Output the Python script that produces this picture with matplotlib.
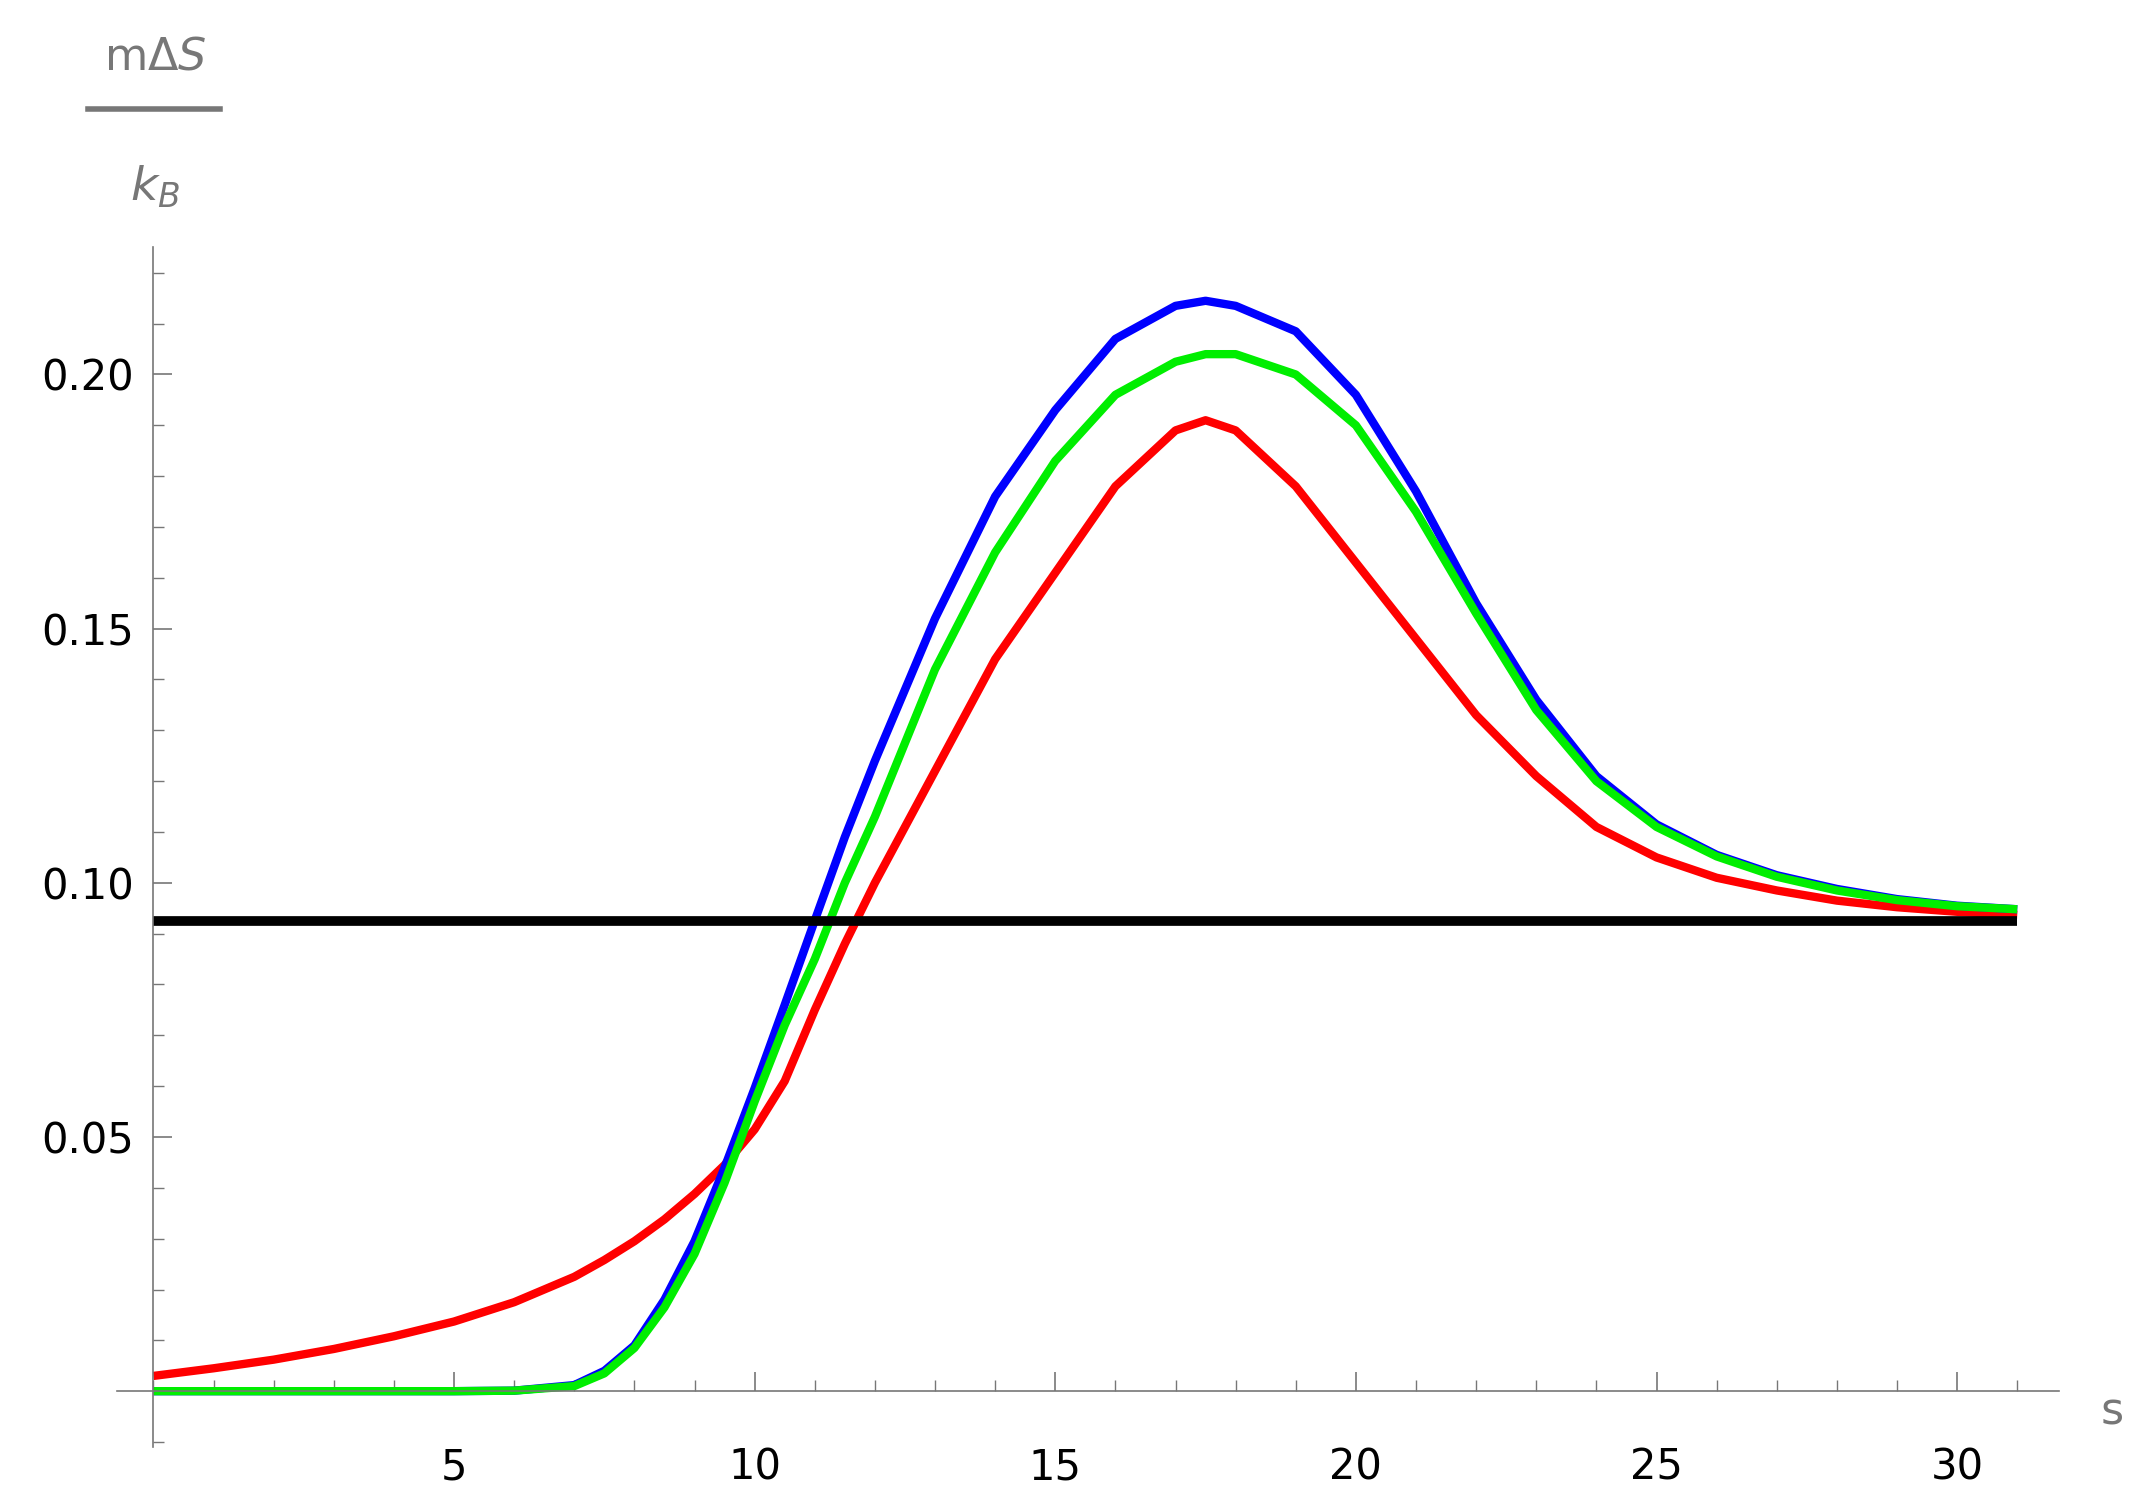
import numpy as np
import matplotlib.pyplot as plt
from matplotlib.ticker import MultipleLocator

s = [0, 1, 2, 3, 4, 5, 6, 7, 7.5, 8, 8.5, 9, 9.5, 10, 10.5, 11, 11.5, 12, 13, 14, 15, 16, 17, 17.5, 18, 19, 20, 21, 22, 23, 24, 25, 26, 27, 28, 29, 30, 31]
red = [0.003, 0.0045, 0.0062, 0.0083, 0.0108, 0.0137, 0.0175, 0.0225, 0.0258, 0.0295, 0.0338, 0.0388, 0.0445, 0.0515, 0.061, 0.075, 0.088, 0.100, 0.122, 0.144, 0.161, 0.178, 0.189, 0.191, 0.189, 0.178, 0.163, 0.148, 0.133, 0.121, 0.111, 0.105, 0.101, 0.0985, 0.0965, 0.0952, 0.0943, 0.0937]
blue = [0, 0, 0, 0, 0, 0, 0.0001, 0.0012, 0.004, 0.009, 0.018, 0.0295, 0.044, 0.0596, 0.076, 0.0926, 0.109, 0.124, 0.152, 0.176, 0.193, 0.207, 0.2135, 0.2145, 0.2135, 0.2085, 0.196, 0.177, 0.155, 0.136, 0.121, 0.1115, 0.1055, 0.1015, 0.0988, 0.0968, 0.0955, 0.0948]
green = [0, 0, 0, 0, 0, 0, 0.0001, 0.001, 0.0035, 0.0085, 0.0165, 0.027, 0.041, 0.057, 0.072, 0.085, 0.100, 0.113, 0.142, 0.165, 0.183, 0.196, 0.2025, 0.204, 0.204, 0.200, 0.190, 0.173, 0.153, 0.134, 0.120, 0.111, 0.1052, 0.1012, 0.0985, 0.0966, 0.0954, 0.0948]
level = 0.0925

grey = '#777777'
fig = plt.figure(figsize=(21.53, 14.94), dpi=100)
ax = fig.add_axes([0.0545, 0.0314, 0.902, 0.803])
ax.plot(s, red, color='#ff0000', lw=6, solid_capstyle='butt')
ax.plot(s, blue, color='#0000ff', lw=6, solid_capstyle='butt')
ax.plot(s, green, color='#00ee00', lw=6, solid_capstyle='butt')
ax.plot([0, 31], [level, level], color='black', lw=7, solid_capstyle='butt')

ax.set_xlim(-0.6, 31.7)
ax.set_ylim(-0.011, 0.225)
for side in ['top', 'right']:
    ax.spines[side].set_visible(False)
ax.spines['left'].set_position(('data', 0))
ax.spines['bottom'].set_position(('data', 0))
ax.spines['left'].set_color(grey)
ax.spines['bottom'].set_color(grey)
ax.spines['left'].set_linewidth(1.2)
ax.spines['bottom'].set_linewidth(1.2)

ax.set_xticks([5, 10, 15, 20, 25, 30])
ax.set_yticks([0.05, 0.10, 0.15, 0.20])
ax.set_yticklabels(['0.05', '0.10', '0.15', '0.20'])
ax.xaxis.set_minor_locator(MultipleLocator(1))
ax.yaxis.set_minor_locator(MultipleLocator(0.01))
ax.tick_params(which='major', direction='in', length=14, width=1.2, color=grey, labelsize=30, pad=14)
ax.tick_params(which='minor', direction='in', length=8, width=1, color=grey)
ax.tick_params(axis='x', pad=40)

fig.text(0.981, 0.055, 's', fontsize=32, color=grey, ha='center', va='center')
fig.text(0.072, 0.962, r'm$\Delta$$S$', fontsize=32, color=grey, ha='center', va='center')
fig.add_artist(plt.Line2D([0.041, 0.102], [0.927, 0.927], color=grey, lw=4))
fig.text(0.072, 0.875, r'$k_B$', fontsize=34, color=grey, ha='center', va='center')

fig.savefig('out.png', dpi=100)
